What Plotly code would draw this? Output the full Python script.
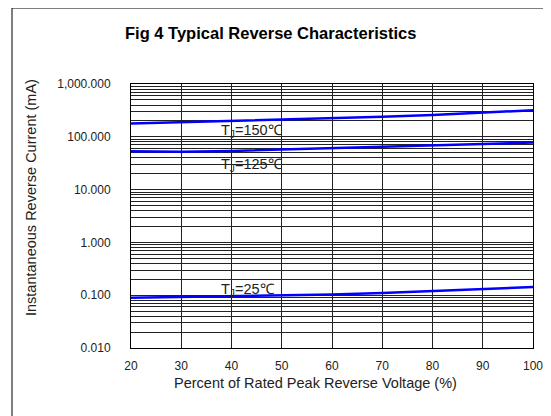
import math
import plotly.graph_objects as go

voltage_pct = [20, 30, 40, 50, 60, 70, 80, 90, 100]
i_150 = [178, 188, 198, 210, 224, 240, 260, 285, 318]
i_125 = [53, 52, 54, 57, 61, 65, 69, 73, 78]
i_25 = [0.089, 0.092, 0.096, 0.099, 0.103, 0.110, 0.119, 0.130, 0.143]

series = [("150", i_150), ("125", i_125), ("25", i_25)]
label_pos = {"150": (37.6, 130), "125": (37.6, 29.5), "25": (37.6, 0.128)}

y_decades = [0.01, 0.1, 1, 10, 100, 1000]
y_decade_text = ["0.010", "0.100", "1.000", "10.000", "100.000", "1,000.000"]
x_ticks = [20, 30, 40, 50, 60, 70, 80, 90, 100]

FONT = "Liberation Sans, Arial, sans-serif"
OFF = 8  # page body margin
W, H = 551 - OFF, 416 - OFF

fig = go.Figure()
for name, vals in series:
    fig.add_trace(go.Scatter(x=voltage_pct, y=vals, mode="lines",
                             line=dict(color="#0000FF", width=2.5),
                             name=name, showlegend=False))

# all gridline values (1..9 per decade)
y_grid = []
y_text = []
for d, t in zip(y_decades[:-1], y_decade_text[:-1]):
    for k in range(1, 10):
        y_grid.append(d * k)
        y_text.append(t if k == 1 else "")
y_grid.append(1000)
y_text.append("1,000.000")

annotations = []
for name, (lx, ly) in label_pos.items():
    annotations.append(dict(x=lx, y=math.log10(ly), xref="x", yref="y",
                            text=f"T<sub>J</sub>={name}℃", showarrow=False,
                            xanchor="left", yanchor="middle",
                            font=dict(family=FONT, size=14.5, color="#222")))

# target screen coordinates of plot area
L, R, T, B = 131, 533, 84, 348
def px(x):
    return (x - L) / (R - L)
def py(y):
    return (B - y) / (B - T)

annotations += [
    dict(x=px(270), y=py(33), xref="paper", yref="paper", text="<b>Fig 4 Typical Reverse Characteristics</b>",
         showarrow=False, xanchor="center", yanchor="middle", font=dict(family=FONT, size=16.5, color="#000")),
    dict(x=px(315), y=py(383), xref="paper", yref="paper", text="Percent of Rated Peak Reverse Voltage (%)",
         showarrow=False, xanchor="center", yanchor="middle", font=dict(family=FONT, size=14.5, color="#222")),
    dict(x=px(31), y=py(198), xref="paper", yref="paper", text="Instantaneous Reverse Current (mA)",
         showarrow=False, xanchor="center", yanchor="middle", textangle=-90,
         font=dict(family=FONT, size=14.5, color="#222")),
]

fig.update_layout(
    width=W, height=H,
    margin=dict(l=L - OFF, r=551 - R, t=T - OFF, b=416 - B, autoexpand=False),
    paper_bgcolor="white", plot_bgcolor="white",
    annotations=annotations,
    shapes=[dict(type="rect", xref="paper", yref="paper",
                 x0=px(12), x1=px(548), y0=py(420), y1=py(8),
                 line=dict(color="#000", width=1), layer="below")],
    xaxis=dict(range=[20, 100], tickvals=x_ticks, ticktext=[str(v) for v in x_ticks],
               showgrid=True, gridcolor="#222", gridwidth=1, zeroline=False,
               showline=True, linecolor="#000", linewidth=1, mirror=True,
               ticks="", ticklen=0, automargin=False, ticklabelstandoff=7,
               tickfont=dict(family=FONT, size=12, color="#222")),
    yaxis=dict(type="log", range=[-2, 3], tickvals=y_grid, ticktext=y_text,
               showgrid=True, gridcolor="#222", gridwidth=1, zeroline=False,
               showline=True, linecolor="#000", linewidth=1, mirror=True,
               ticks="", ticklen=0, ticklabelstandoff=17, automargin=False,
               tickfont=dict(family=FONT, size=12, color="#222")),
)

fig.write_html("out.html")
